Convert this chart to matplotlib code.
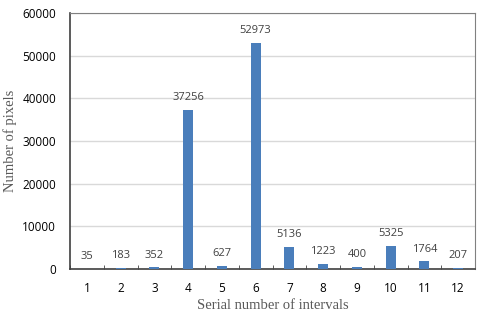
import matplotlib.pyplot as plt
import numpy as np

# data
intervals = [str(i) for i in range(1, 13)]
pixel_counts = [35, 183, 352, 37256, 627, 52973, 5136, 1223, 400, 5325, 1764, 207]
y_ticks = [0, 10000, 20000, 30000, 40000, 50000, 60000]

bar_color = "#4a7ebb"
text_color = "#404040"

fig = plt.figure(figsize=(4.8, 3.14), dpi=100)
ax = fig.add_axes([70 / 480, 1 - 269 / 314, 405 / 480, 256 / 314])

x = np.arange(len(intervals))
ax.bar(x, pixel_counts, width=0.3, color=bar_color, zorder=3)

for xi, v in zip(x, pixel_counts):
    ax.annotate(str(v), (xi, v), xytext=(0, 5), textcoords="offset points",
                ha="center", va="bottom", fontsize=8, color=text_color,
                family="Open Sans")

ax.set_xlim(-0.5, len(intervals) - 0.5)
ax.set_ylim(0, 60000)
ax.set_yticks(y_ticks)
ax.set_yticklabels([str(t) for t in y_ticks], family="Open Sans", fontsize=8.5, color="black")
ax.yaxis.grid(True, color="#d9d9d9", lw=1, zorder=0)
ax.tick_params(axis="y", length=0, pad=10)

# category labels plus boundary ticks
ax.set_xticks(x)
ax.set_xticklabels(intervals, family="Open Sans", fontsize=8.5, color="black")
ax.tick_params(axis="x", which="major", length=0, pad=9)
ax.set_xticks(np.arange(-0.5, len(intervals)), minor=True)
ax.tick_params(axis="x", which="minor", length=3, direction="in", color="#404040")

for side in ["top", "right"]:
    ax.spines[side].set_color("#808080")
for side in ["left", "bottom"]:
    ax.spines[side].set_color("#404040")
    ax.spines[side].set_linewidth(1.2)

ax.set_xlabel("Serial number of intervals", family="Liberation Serif", fontsize=10.5,
              color="#595959", labelpad=3)
ax.set_ylabel("Number of pixels", family="Liberation Serif", fontsize=10.5,
              color="#595959", labelpad=4)

fig.savefig("out.png", dpi=100)
